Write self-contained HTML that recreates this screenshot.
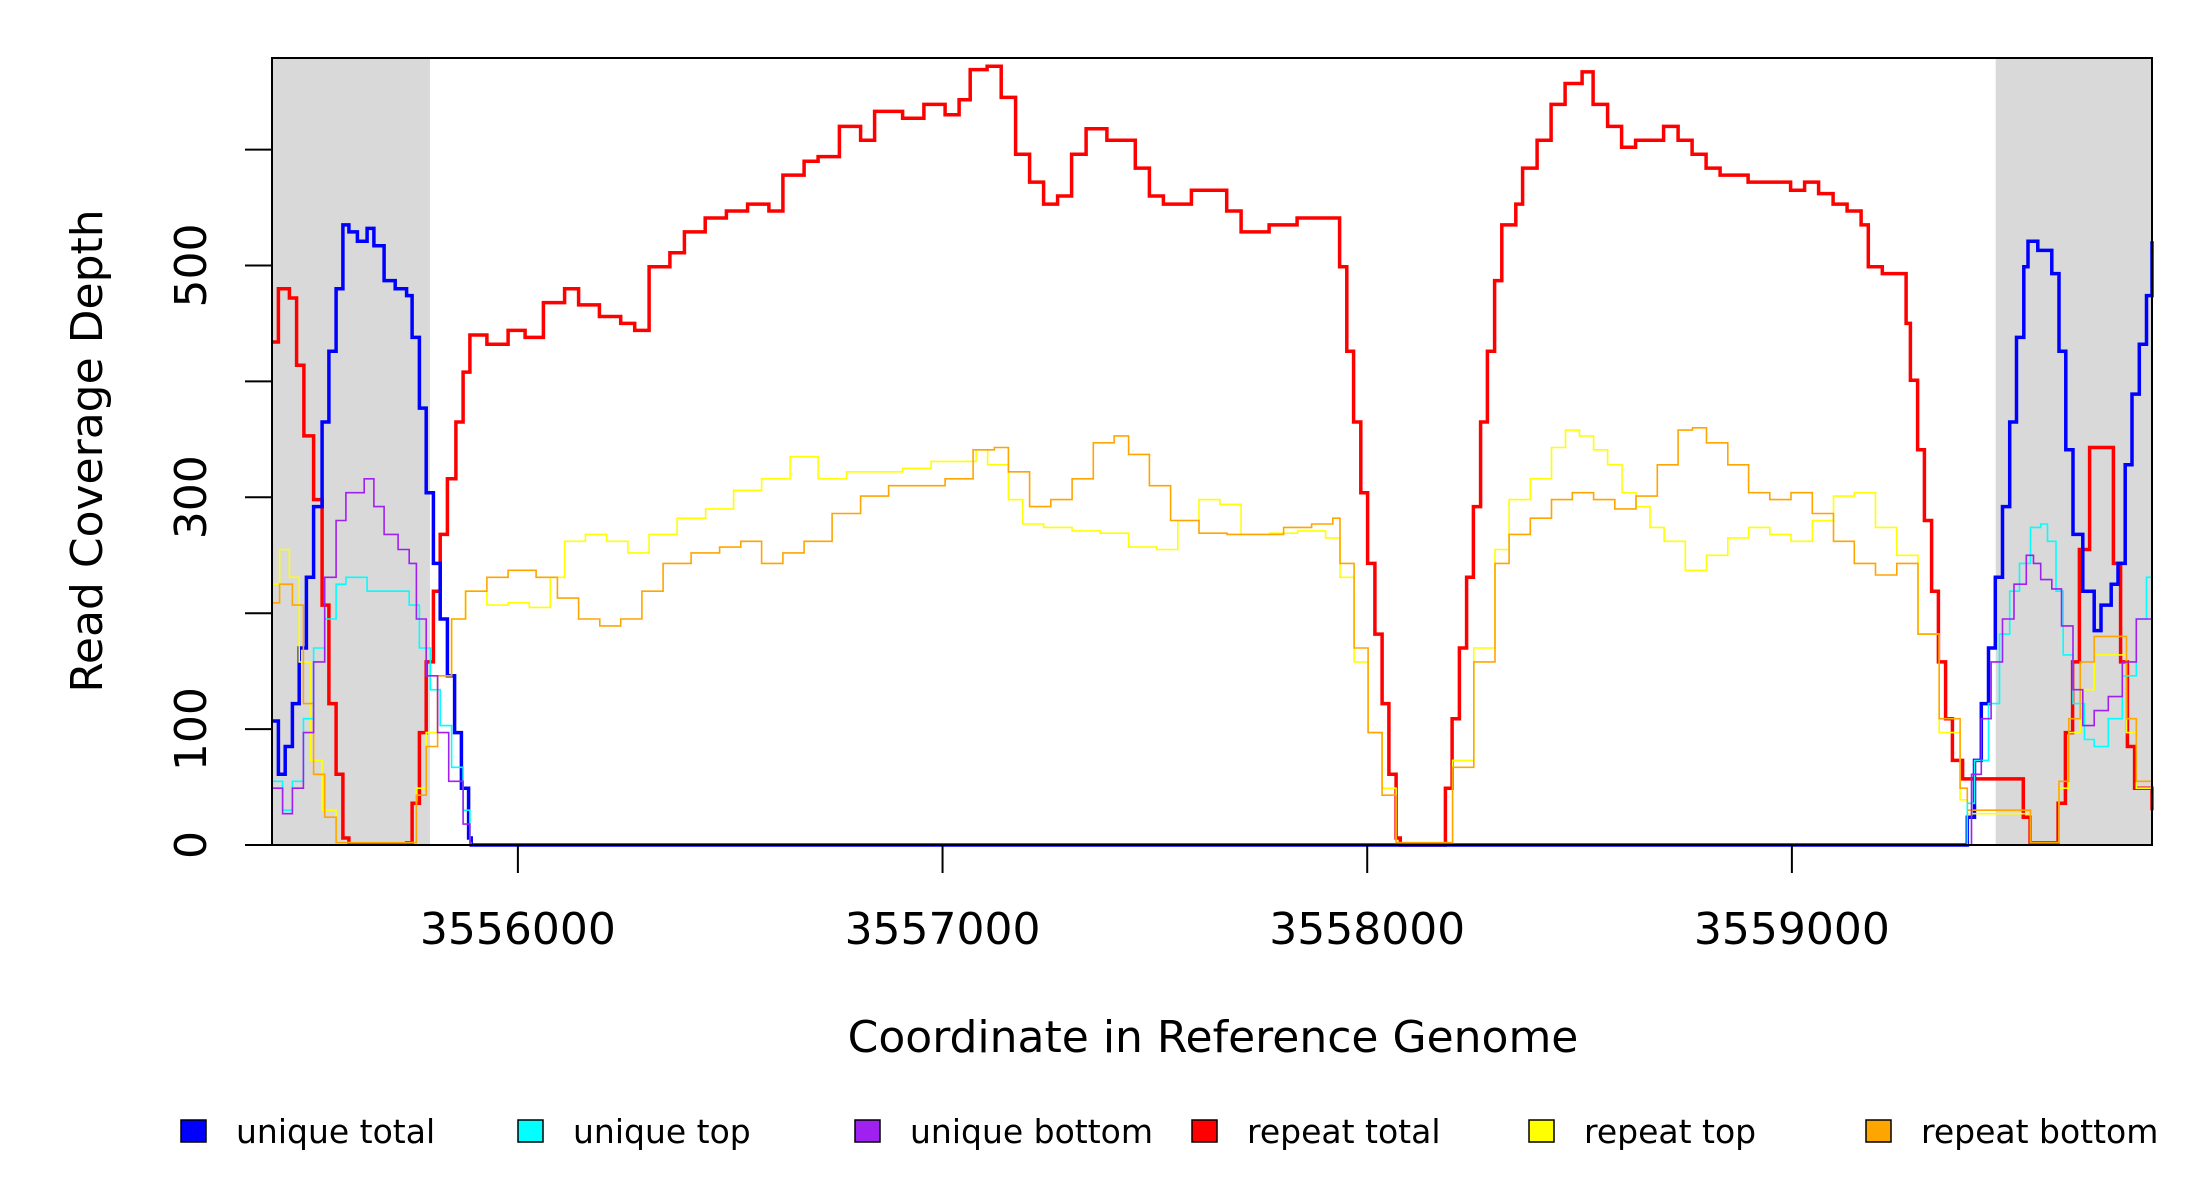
<!DOCTYPE html>
<html><head><meta charset="utf-8"><style>
html,body{margin:0;padding:0;background:#fff;}
svg{display:block;font-family:"DejaVu Sans","Liberation Sans",sans-serif;}
</style></head><body>
<svg id="chart" width="2200" height="1200" viewBox="0 0 2200 1200">
<g id="shade"></g>
<g id="series"></g>
<rect x="272" y="58" width="1880" height="787" fill="none" stroke="#000" stroke-width="2"/>
<g id="yaxis"></g>
<g id="xaxis"></g>
<text x="102" y="451" transform="rotate(-90 102 451)" text-anchor="middle" font-size="44">Read Coverage Depth</text>
<text x="1213" y="1052" text-anchor="middle" font-size="44">Coordinate in Reference Genome</text>
<g id="legend"></g>
</svg>
<script>
const xMin = 3555421, xMax = 3559848;
const yTicks = [0,100,200,300,400,500,600];
const yTickLabels = ["0","100","","300","","500",""];
const xTicks = [3556000,3557000,3558000,3559000];
const xTickLabels = ["3556000","3557000","3558000","3559000"];
const shadedRegions = [[3555421,3555793],[3559480,3559848]];
const seriesNames = ["unique total","unique top","unique bottom","repeat total","repeat top","repeat bottom"];
const seriesColors = ["#0000ff","#00ffff","#a020f0","#ff0000","#ffff00","#ffa500"];

const uniqueTotalX = [3555422,3555436,3555452,3555469,3555485,3555502,3555519,3555539,3555555,3555572,3555588,3555602,3555622,3555645,3555661,3555685,3555711,3555738,3555751,3555768,3555784,3555801,3555817,3555834,3555851,3555867,3555884,3555890,3559403,3559413,3559430,3559446,3559463,3559479,3559496,3559513,3559529,3559546,3559556,3559579,3559612,3559629,3559645,3559662,3559685,3559712,3559728,3559752,3559768,3559785,3559801,3559818,3559835,3559848];
const uniqueTotalY = [107,61,85,122,170,231,292,365,426,480,535,529,521,532,517,487,480,474,438,377,304,243,195,146,97,49,6,0,0,24,73,122,170,231,292,365,438,499,521,513,493,426,341,268,219,185,207,225,243,328,389,432,474,521];

const uniqueTopX = [3555422,3555446,3555469,3555495,3555519,3555545,3555572,3555595,3555645,3555711,3555744,3555768,3555794,3555817,3555844,3555871,3555887,3555890,3559403,3559413,3559430,3559463,3559489,3559513,3559536,3559562,3559586,3559602,3559622,3559639,3559662,3559689,3559712,3559745,3559778,3559811,3559835,3559848];
const uniqueTopY = [55,30,55,109,170,195,225,231,219,219,207,170,134,103,67,30,2,0,0,36,73,122,182,219,243,274,277,262,219,164,122,91,85,109,146,195,231,268];

const uniqueBottomX = [3555422,3555446,3555469,3555495,3555519,3555545,3555572,3555595,3555618,3555638,3555661,3555685,3555718,3555744,3555761,3555784,3555811,3555837,3555871,3555887,3555890,3559403,3559423,3559446,3559469,3559496,3559523,3559552,3559569,3559586,3559612,3559635,3559662,3559685,3559712,3559745,3559778,3559811,3559848];
const uniqueBottomY = [49,27,49,97,158,231,280,304,304,316,292,268,255,243,195,146,97,55,18,2,0,0,61,109,158,195,225,250,243,229,221,189,134,103,116,128,158,195,243];

const repeatTotalX = [3555422,3555436,3555462,3555479,3555496,3555519,3555539,3555555,3555572,3555588,3555602,3555738,3555751,3555768,3555784,3555801,3555817,3555834,3555854,3555871,3555887,3555927,3555977,3556017,3556060,3556110,3556143,3556192,3556242,3556275,3556309,3556358,3556392,3556441,3556491,3556541,3556591,3556624,3556674,3556707,3556757,3556807,3556840,3556906,3556956,3557006,3557039,3557065,3557105,3557138,3557172,3557205,3557238,3557271,3557304,3557338,3557387,3557421,3557454,3557487,3557520,3557586,3557636,3557669,3557703,3557769,3557835,3557918,3557935,3557952,3557968,3557985,3558001,3558018,3558035,3558051,3558068,3558078,3558167,3558184,3558200,3558217,3558234,3558250,3558267,3558283,3558300,3558317,3558350,3558366,3558400,3558433,3558466,3558506,3558532,3558566,3558599,3558632,3558665,3558698,3558732,3558765,3558798,3558831,3558864,3558897,3558931,3558964,3558997,3559030,3559063,3559097,3559130,3559163,3559180,3559213,3559256,3559269,3559279,3559296,3559312,3559329,3559345,3559362,3559378,3559402,3559528,3559545,3559561,3559611,3559627,3559644,3559661,3559677,3559701,3559740,3559757,3559774,3559790,3559807,3559848];
const repeatTotalY = [434,480,472,414,353,298,207,122,61,6,1,2,36,97,158,219,268,316,365,408,440,432,444,438,468,480,466,456,450,444,499,511,529,541,547,553,547,578,590,594,620,608,633,627,639,630,643,669,672,645,596,572,553,560,596,618,608,608,584,560,553,565,565,547,529,535,541,541,499,426,365,304,243,182,122,61,6,0,0,49,109,170,231,292,365,426,487,535,553,584,608,639,657,667,639,620,602,608,608,620,608,596,584,578,578,572,572,572,565,572,562,553,547,535,499,493,493,450,401,341,280,219,158,109,73,57,57,24,2,2,36,97,158,255,343,343,243,158,85,49,30];

const repeatTopX = [3555422,3555439,3555462,3555485,3555512,3555539,3555572,3555738,3555761,3555784,3555811,3555844,3555877,3555927,3555977,3556027,3556076,3556110,3556159,3556209,3556259,3556309,3556375,3556442,3556508,3556574,3556641,3556707,3556774,3556840,3556906,3556973,3557039,3557079,3557106,3557155,3557189,3557238,3557305,3557371,3557438,3557504,3557554,3557604,3557653,3557703,3557770,3557836,3557902,3557936,3557969,3558002,3558035,3558068,3558168,3558201,3558251,3558301,3558334,3558384,3558434,3558467,3558500,3558533,3558566,3558600,3558633,3558666,3558699,3558749,3558799,3558849,3558898,3558948,3558998,3559048,3559098,3559147,3559197,3559247,3559297,3559347,3559396,3559413,3559529,3559562,3559612,3559629,3559652,3559679,3559712,3559762,3559788,3559811,3559848];
const repeatTopY = [225,255,231,158,73,30,2,2,49,97,146,195,219,207,209,205,231,262,268,262,252,268,282,290,306,316,335,316,322,322,325,331,331,341,328,298,277,274,271,269,257,255,280,298,294,268,269,271,265,231,158,97,49,2,2,73,170,255,298,316,343,358,353,341,328,304,292,274,262,237,250,265,274,268,262,280,301,304,274,250,182,97,39,27,27,2,2,49,97,134,164,164,97,49,27];

const repeatBottomX = [3555422,3555439,3555469,3555495,3555519,3555545,3555572,3555738,3555761,3555784,3555811,3555844,3555877,3555927,3555977,3556043,3556093,3556143,3556193,3556242,3556292,3556342,3556408,3556475,3556525,3556574,3556624,3556674,3556740,3556807,3556873,3556940,3557006,3557072,3557122,3557155,3557205,3557255,3557305,3557355,3557404,3557438,3557487,3557537,3557604,3557670,3557736,3557803,3557869,3557919,3557936,3557969,3558002,3558035,3558068,3558168,3558201,3558251,3558301,3558334,3558384,3558434,3558483,3558533,3558583,3558633,3558683,3558732,3558766,3558799,3558849,3558898,3558948,3558998,3559048,3559098,3559147,3559197,3559247,3559297,3559347,3559396,3559413,3559529,3559562,3559612,3559629,3559652,3559679,3559712,3559762,3559788,3559811,3559848];
const repeatBottomY = [209,225,207,122,61,24,2,2,43,85,146,195,219,231,237,231,213,195,189,195,219,243,252,257,262,243,252,262,286,301,310,310,316,341,343,322,292,298,316,347,353,337,310,280,269,268,268,274,277,282,243,170,97,43,2,2,67,158,243,268,282,298,304,298,290,301,328,358,360,347,328,304,298,304,286,262,243,233,243,182,109,49,30,30,2,2,55,109,158,180,180,109,55,27];

const plotL = 272, plotR = 2152, plotT = 58, plotB = 845;
function xScale(v){ return plotL + (v - xMin) / (xMax - xMin) * (plotR - plotL); }
function yScale(v){ return plotB - v * 1.159; }
const NS = "http://www.w3.org/2000/svg";
function mk(tag, attrs, parent){ const e = document.createElementNS(NS, tag); for (const k in attrs) e.setAttribute(k, attrs[k]); parent.appendChild(e); return e; }

const shadeG = document.getElementById('shade');
shadedRegions.forEach(r => {
  const el = mk('rect', {x: xScale(r[0]), y: plotT, width: xScale(r[1]) - xScale(r[0]), height: plotB - plotT, fill: '#d9d9d9'}, shadeG);
  
  
});

function stepPath(xs, ys){
  let d = 'M' + xScale(xs[0]).toFixed(1) + ',' + yScale(ys[0]).toFixed(1);
  for (let i = 1; i < xs.length; i++) {
    d += 'H' + xScale(xs[i]).toFixed(1) + 'V' + yScale(ys[i]).toFixed(1);
  }
  return d;
}
const seriesG = document.getElementById('series');
const drawOrder = [
  [repeatTotalX, repeatTotalY, 3, 3.5, 'repeat-total-line'],
  [uniqueTotalX, uniqueTotalY, 0, 3.5, 'unique-total-line'],
  [repeatTopX, repeatTopY, 4, 1.6, 'repeat-top-line'],
  [repeatBottomX, repeatBottomY, 5, 1.6, 'repeat-bottom-line'],
  [uniqueTopX, uniqueTopY, 1, 1.6, 'unique-top-line'],
  [uniqueBottomX, uniqueBottomY, 2, 1.6, 'unique-bottom-line']
];
drawOrder.forEach(s => {
  const p = mk('path', {d: stepPath(s[0], s[1]), fill: 'none', stroke: seriesColors[s[2]], 'stroke-width': s[3]}, seriesG);
  
  
});

const yG = document.getElementById('yaxis');
yTicks.forEach((t, i) => {
  const y = yScale(t);
  const ln = mk('line', {x1: 245, x2: plotL, y1: y, y2: y, stroke: '#000', 'stroke-width': 2}, yG);
  
  
  if (yTickLabels[i]) {
    const tx = mk('text', {x: 206, y: y, transform: 'rotate(-90 206 ' + y + ')', 'text-anchor': 'middle', 'font-size': 44}, yG);
    tx.textContent = yTickLabels[i];
    
    
  }
});
const xG = document.getElementById('xaxis');
xTicks.forEach((t, i) => {
  const x = xScale(t);
  const ln = mk('line', {x1: x, x2: x, y1: plotB, y2: plotB + 28, stroke: '#000', 'stroke-width': 2}, xG);
  
  
  const tx = mk('text', {x: x, y: 944, 'text-anchor': 'middle', 'font-size': 44}, xG);
  tx.textContent = xTickLabels[i];
  
  
});

const legG = document.getElementById('legend');
seriesNames.forEach((n, i) => {
  const bx = 181 + i * 337;
  const r = mk('rect', {x: bx, y: 1120, width: 25, height: 22, fill: seriesColors[i], stroke: '#000', 'stroke-width': 1.5}, legG);
  
  
  const tx = mk('text', {x: bx + 55, y: 1143, 'font-size': 33}, legG);
  tx.textContent = n;
  
  
});
</script>
</body></html>
